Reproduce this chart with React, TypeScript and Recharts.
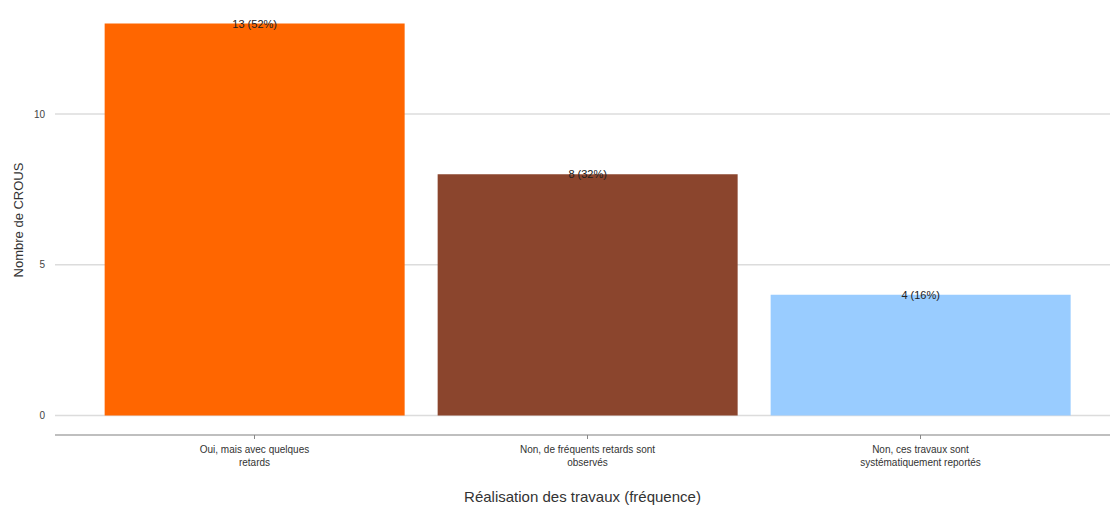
import { BarChart, Bar, XAxis, YAxis, CartesianGrid, Cell, LabelList } from 'recharts';

// données
const categories = [
    'Oui, mais avec quelques|retards',
    'Non, de fréquents retards sont|observés',
    'Non, ces travaux sont|systématiquement reportés',
];
const counts = [13, 8, 4];
const labels = ['13 (52%)', '8 (32%)', '4 (16%)'];
const barColors = ['#FF6600', '#8B452D', '#99CCFF'];
const yTicks = [0, 5, 10];

const data = categories.map((c, i) => ({ name: c, value: counts[i], label: labels[i] }));

const FONT = '"Liberation Sans", Arial, sans-serif';

const CategoryTick = ({ x, y, payload }: any) => {
    const lines = String(payload.value).split('|');
    return (
        <text x={x} y={y + 12} textAnchor="middle" fontSize={10} fill="#333" fontFamily={FONT}>
            {lines.map((l, i) => (
                <tspan key={i} x={x} dy={i === 0 ? 0 : 13}>{l}</tspan>
            ))}
        </text>
    );
};

const BarLabel = ({ x, y, width, value }: any) => (
    <text x={x + width / 2} y={y} textAnchor="middle" dominantBaseline="central" fontSize={11} fill="#222" fontFamily={FONT}>
        {value}
    </text>
);

const YTitle = () => (
    <text x={18} y={220} transform="rotate(-90 18 220)" textAnchor="middle" dominantBaseline="central" fontSize={13} fill="#333" fontFamily={FONT}>
        Nombre de CROUS
    </text>
);

export default function App() {
    return (
        <div style={{ width: 1110, height: 514, background: '#fff', fontFamily: FONT }}>
            <style>{`body{margin:0}`}</style>
            <BarChart
                width={1110}
                height={514}
                data={data}
                barCategoryGap="5%"
                margin={{ top: 4, right: 0, left: 0, bottom: 0 }}
            >
                <CartesianGrid vertical={false} horizontalValues={yTicks} stroke="#dcdcdc" strokeWidth={1.5} />
                <XAxis
                    dataKey="name"
                    tick={<CategoryTick />}
                    tickSize={4}
                    tickLine={{ stroke: '#888' }}
                    axisLine={{ stroke: '#aaa', strokeWidth: 1.5 }}
                    padding={{ left: 33, right: 23 }}
                    interval={0}
                    height={79}
                    label={{ value: 'Réalisation des travaux (fréquence)', position: 'insideBottom', offset: 12, fontSize: 15, fill: '#333', fontFamily: FONT }}
                />
                <YAxis
                    type="number"
                    domain={[-0.65, 13.65]}
                    allowDataOverflow
                    ticks={yTicks}
                    width={55}
                    tickSize={0}
                    tickMargin={10}
                    axisLine={false}
                    tickLine={false}
                    tick={{ fontSize: 10, fill: '#444', fontFamily: FONT }}
                    label={<YTitle />}
                />
                <Bar dataKey="value" isAnimationActive={false}>
                    {data.map((d, i) => (
                        <Cell key={d.name} fill={barColors[i]} />
                    ))}
                    <LabelList dataKey="label" content={<BarLabel />} />
                </Bar>
            </BarChart>
        </div>
    );
}
